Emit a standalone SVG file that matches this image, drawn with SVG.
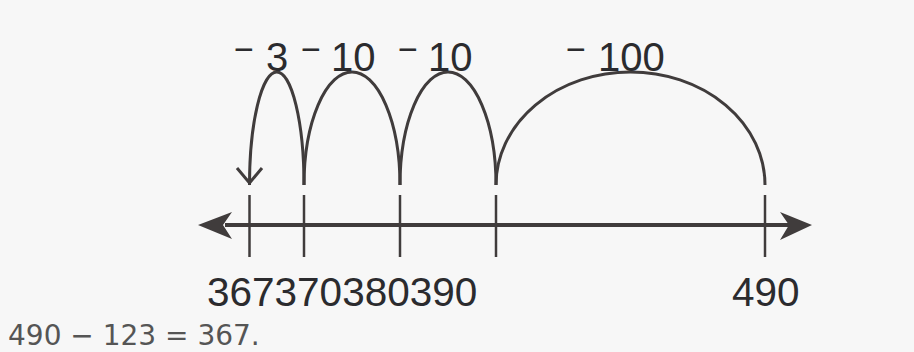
<svg xmlns="http://www.w3.org/2000/svg" width="914" height="352" viewBox="0 0 914 352">
<style>
.ln{fill:none;stroke:#403c3c;stroke-width:3;stroke-linecap:butt}
.tk{fill:none;stroke:#403c3c;stroke-width:2.5}
.lab{font-family:"Liberation Sans",Arial,sans-serif;font-size:40px;fill:#2b2b2e}
.num{font-family:"Liberation Sans",Arial,sans-serif;font-size:40.5px;fill:#2b2b2e}
.mn{font-family:"Liberation Sans",Arial,sans-serif;font-size:34px;fill:#2b2b2e}
.eq{font-family:"DejaVu Sans",Verdana,sans-serif;font-size:28px;fill:#555555}
</style>
<rect width="914" height="352" fill="#f7f7f7"/>
<g id="numberline">
<line x1="225" y1="225" x2="790" y2="225" stroke="#403c3c" stroke-width="4"/>
<path d="M198,225 L232,212 L223,225 L232,239 Z" fill="#403c3c"/>
<path d="M812,225 L780,212 L789,225 L780,240 Z" fill="#403c3c"/>
</g>
<g id="ticks">
<line class="tk" x1="249.5" y1="195" x2="249.5" y2="257"/>
<line class="tk" x1="304" y1="195" x2="304" y2="257"/>
<line class="tk" x1="400" y1="195" x2="400" y2="257"/>
<line class="tk" x1="496" y1="195" x2="496" y2="257"/>
<line class="tk" x1="765" y1="195" x2="765" y2="257"/>
</g>
<g id="connectors">
<path class="ln" d="M304,185 A27.25,113 0 0 0 249.5,185"/>
<path class="ln" d="M237,168 L249.5,183 L262,168" stroke-linejoin="miter"/>
<path class="ln" d="M400,185 A48,113 0 0 0 304,185"/>
<path class="ln" d="M496,185 A48,113 0 0 0 400,185"/>
<path class="ln" d="M765,185 A134.5,113 0 0 0 496,185"/>
</g>
<g id="jump-labels">
<text class="lab" x="266" y="71"><tspan class="mn" x="234" dy="-10">−</tspan><tspan x="266" dy="10">3</tspan></text>
<text class="lab" x="331" y="71"><tspan class="mn" x="301" dy="-10">−</tspan><tspan x="331" dy="10">10</tspan></text>
<text class="lab" x="428" y="71"><tspan class="mn" x="398" dy="-10">−</tspan><tspan x="428" dy="10">10</tspan></text>
<text class="lab" x="598" y="71"><tspan class="mn" x="566" dy="-10">−</tspan><tspan x="598" dy="10">100</tspan></text>
</g>
<g id="tick-labels">
<text class="num" x="207" y="306">367370380390</text>
<text class="num" x="732" y="306">490</text>
</g>
<text class="eq" x="8" y="345">490 − 123 = 367.</text>
</svg>
